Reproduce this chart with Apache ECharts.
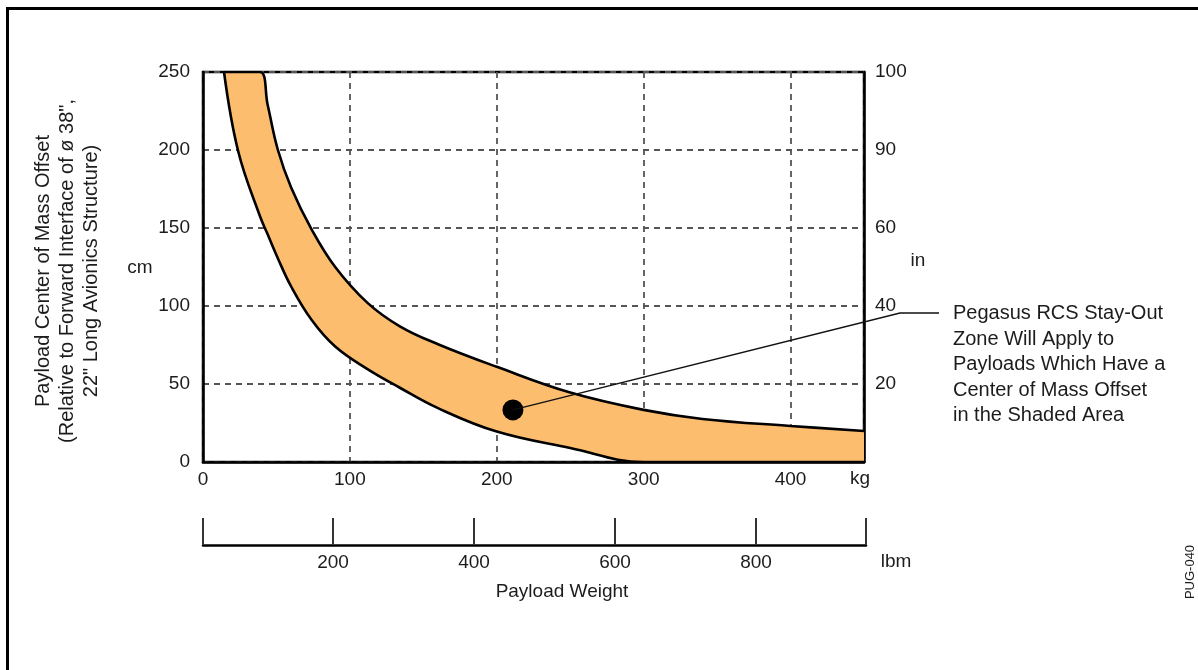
<!DOCTYPE html>
<html>
<head>
<meta charset="utf-8">
<title>Payload Center of Mass Offset</title>
<script src="https://cdn.jsdelivr.net/npm/echarts@6/dist/echarts.min.js"></script>
<style>
  html, body { margin: 0; padding: 0; background: #fff; }
  #chart { width: 1198px; height: 670px; }
</style>
</head>
<body>
<div id="chart"></div>
<script>
// Payload weight (kg) where both band edges are sampled
const kgPoints   = [14.3, 24, 38.8, 44, 51, 60, 74, 90, 112, 134, 160, 200, 250, 300, 340, 400, 450];
// Upper edge of the stay-out band (cm); 250 where it runs off the top of the plot
const upperCm    = [250, 250, 250, 229, 200, 176, 149, 125, 102, 87, 75.5, 61, 44.5, 33.4, 27.6, 23.1, 19.9];
// Lower edge of the stay-out band (cm)
const lowerCm    = [250, 199, 157.5, 146, 130.5, 112.5, 91, 74, 59.5, 47.6, 34.5, 19.5, 9, 0, 0, 0, 0];
// Example payload marker [kg, cm]
const markerPoint = [211, 33.4];

// Left (cm) axis ticks and the matching right-hand inch labels
const cmTicks       = [0, 50, 100, 150, 200, 250];
const inTickLabels  = ['', '20', '40', '60', '90', '100'];
// Secondary weight scale in pounds
const lbmTicks      = [200, 400, 600, 800];
const lbmRange      = [15.6, 956];

const FONT = 'Liberation Sans, Arial, sans-serif';
const TXT = '#1c1c1c';
const BAND = '#FDBD6E';

// Rows are [cm, kg] so that the stacked dimension is the cm value;
// the band series carries the thickness above the lower edge.
const lowerRows = kgPoints.map((k, i) => [lowerCm[i], k]);
const bandRows  = kgPoints.map((k, i) => [upperCm[i] - lowerCm[i], k]);

const gridDash = { type: [6, 5], width: 1.8, color: '#555' };
const SMOOTH = 0.4;

const chart = echarts.init(document.getElementById('chart'), null, { renderer: 'canvas' });

const option = {
  animation: false,
  backgroundColor: '#fff',
  textStyle: { fontFamily: FONT },
  grid: [
    { left: 203, top: 72, width: 661, height: 390, show: true, borderColor: '#000', borderWidth: 2.5, backgroundColor: 'transparent' },
    { left: 203, top: 544, width: 663, height: 1 }
  ],
  xAxis: [
    {
      gridIndex: 0, type: 'value', min: 0, max: 450, interval: 100,
      axisLine: { lineStyle: { color: '#000', width: 2.5 } },
      axisTick: { show: false },
      axisLabel: { fontSize: 19, color: TXT, margin: 8, showMaxLabel: false, fontFamily: FONT },
      splitLine: { show: true, lineStyle: gridDash }
    },
    {
      gridIndex: 1, type: 'value', min: lbmRange[0], max: lbmRange[1],
      axisLine: { lineStyle: { color: '#000', width: 2.5 } },
      axisTick: { show: true, inside: true, length: 27, customValues: [lbmRange[0]].concat(lbmTicks, [lbmRange[1]]),
                  lineStyle: { color: '#333', width: 2 } },
      axisLabel: { customValues: lbmTicks, fontSize: 19, color: TXT, margin: 8, fontFamily: FONT },
      splitLine: { show: false }
    }
  ],
  yAxis: [
    {
      gridIndex: 0, type: 'value', min: 0, max: 250, interval: 50, position: 'left',
      axisLine: { show: true, lineStyle: { color: '#000', width: 2.5 } },
      axisTick: { show: false },
      axisLabel: { fontSize: 19, color: TXT, margin: 13, fontFamily: FONT },
      splitLine: { show: true, lineStyle: gridDash }
    },
    {
      gridIndex: 0, type: 'value', min: 0, max: 250, interval: 50, position: 'right',
      axisLine: { show: true, lineStyle: { color: '#000', width: 2.5 } },
      axisTick: { show: false },
      axisLabel: {
        fontSize: 19, color: TXT, margin: 11, fontFamily: FONT,
        formatter: v => { const i = cmTicks.indexOf(v); return i >= 0 ? inTickLabels[i] : ''; }
      },
      splitLine: { show: false }
    },
    { gridIndex: 1, type: 'value', show: false }
  ],
  series: [
    {
      name: 'lower', type: 'line', xAxisIndex: 0, yAxisIndex: 0,
      dimensions: ['cm', 'kg'], encode: { x: 'kg', y: 'cm' },
      data: lowerRows, stack: 'band', smooth: SMOOTH, symbol: 'none', z: 4,
      lineStyle: { color: '#000', width: 2.6 }
    },
    {
      name: 'band', type: 'line', xAxisIndex: 0, yAxisIndex: 0,
      dimensions: ['cm', 'kg'], encode: { x: 'kg', y: 'cm' },
      data: bandRows, stack: 'band', smooth: SMOOTH, symbol: 'none', z: 3,
      lineStyle: { color: '#000', width: 2.6 },
      areaStyle: { color: BAND, opacity: 1 }
    },
    {
      name: 'marker', type: 'scatter', xAxisIndex: 0, yAxisIndex: 0,
      data: [markerPoint], symbol: 'circle', symbolSize: 21, z: 6,
      itemStyle: { color: '#000', opacity: 1 }
    }
  ],
  graphic: [
    // outer frame (top and left edges)
    { type: 'line', shape: { x1: 6, y1: 8.5, x2: 1198, y2: 8.5 }, style: { stroke: '#000', lineWidth: 3 } },
    { type: 'line', shape: { x1: 7.5, y1: 7, x2: 7.5, y2: 670 }, style: { stroke: '#000', lineWidth: 3 } },
    // left axis title
    { type: 'text', x: 67, y: 271, rotation: Math.PI / 2,
      style: { text: 'Payload Center of Mass Offset\n(Relative to Forward Interface of ø 38",\n22" Long Avionics Structure)',
               align: 'center', verticalAlign: 'middle', lineHeight: 24, fontSize: 20, fill: TXT, fontFamily: FONT } },
    { type: 'text', x: 140, y: 268, style: { text: 'cm', align: 'center', verticalAlign: 'middle', fontSize: 19, fill: TXT, fontFamily: FONT } },
    { type: 'text', x: 918, y: 261, style: { text: 'in', align: 'center', verticalAlign: 'middle', fontSize: 19, fill: TXT, fontFamily: FONT } },
    { type: 'text', x: 860, y: 479, style: { text: 'kg', align: 'center', verticalAlign: 'middle', fontSize: 19, fill: TXT, fontFamily: FONT } },
    { type: 'text', x: 896, y: 562, style: { text: 'lbm', align: 'center', verticalAlign: 'middle', fontSize: 19, fill: TXT, fontFamily: FONT } },
    { type: 'text', x: 562, y: 592, style: { text: 'Payload Weight', align: 'center', verticalAlign: 'middle', fontSize: 19, fill: TXT, fontFamily: FONT } },
    // callout text
    { type: 'text', x: 953, y: 301,
      style: { text: 'Pegasus RCS Stay-Out\nZone Will Apply to\nPayloads Which Have a\nCenter of Mass Offset\nin the Shaded Area',
               align: 'left', verticalAlign: 'top', lineHeight: 25.5, fontSize: 20, fill: TXT, fontFamily: FONT } },
    // figure tag
    { type: 'text', x: 1190, y: 572, rotation: Math.PI / 2,
      style: { text: 'PUG-040', align: 'center', verticalAlign: 'middle', fontSize: 13, fill: TXT, fontFamily: FONT } }
  ]
};

chart.setOption(option);

// leader line from the marker to the callout text
const p = chart.convertToPixel({ xAxisIndex: 0, yAxisIndex: 0 }, markerPoint);
chart.setOption({
  graphic: [{
    id: 'leader', type: 'polyline', z: 10,
    shape: { points: [p, [900, 313], [939, 313]] },
    style: { stroke: '#111', lineWidth: 1.4, fill: null }
  }]
});
</script>
</body>
</html>
